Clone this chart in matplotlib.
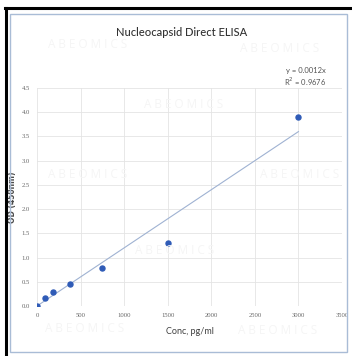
import matplotlib
matplotlib.use("Agg")
import matplotlib.pyplot as plt
from matplotlib.lines import Line2D
from matplotlib.patches import Rectangle

# standard curve data (doubling dilutions)
conc = [0, 93.75, 187.5, 375, 750, 1500, 3000]
od = [0.0, 0.17, 0.29, 0.46, 0.79, 1.30, 3.90]
slope = 0.0012
r2 = 0.9676
fit_x = [0, 3000]

x_ticks = [0, 500, 1000, 1500, 2000, 2500, 3000, 3500]
y_ticks = [0.0, 0.5, 1.0, 1.5, 2.0, 2.5, 3.0, 3.5, 4.0, 4.5]

W, H = 352, 356
fig = plt.figure(figsize=(W / 100, H / 100), dpi=100)
fig.patch.set_facecolor("white")

narrow = ["Lato", "DejaVu Sans"]
serif = ["Liberation Serif", "DejaVu Serif"]

# faint watermarks
wm = [(88, 45), (280, 48), (184, 105), (88, 175), (300, 175), (175, 250), (85, 329), (278, 330)]
for px, py in wm:
    fig.text(px / W, 1 - py / H, "A B E O M I C S", ha="center", va="center",
             fontsize=8.5, color="#f5f5f5", family=["Open Sans", "DejaVu Sans"], zorder=0)

ax = fig.add_axes([37 / W, 1 - 306 / H, 305 / W, 218 / H])
ax.set_facecolor("none")
ax.set_xlim(0, 3500)
ax.set_ylim(0, 4.5)
ax.set_xticks(x_ticks)
ax.set_yticks(y_ticks)
ax.set_yticklabels([f"{v:.1f}" for v in y_ticks])
ax.grid(True, color="#e4e4e4", lw=0.6)
ax.set_axisbelow(True)
for s in ax.spines.values():
    s.set_visible(False)
ax.tick_params(length=0, labelsize=4.8, labelcolor="#666666", pad=5)
for lab in ax.get_xticklabels() + ax.get_yticklabels():
    lab.set_family(serif)

# linear fit through origin
ax.plot(fit_x, [slope * v for v in fit_x], color="#9fb2d2", lw=0.8, zorder=2)
ax.plot(conc, od, "o", color="#2f5bb7", ms=3.6, zorder=3)

ax.set_xlabel("Conc, pg/ml", fontsize=6.5, color="#404040", family=narrow)
ax.xaxis.set_label_coords(153 / 305, -21 / 218)
ax.set_ylabel("OD (450nm)", fontsize=5.5, color="#4a4a4a", fontweight="bold")
ax.yaxis.set_label_coords(-20 / 305, 0.5)

fig.text(182 / W, 1 - 33 / H, "Nucleocapsid Direct ELISA", ha="center", va="center",
         fontsize=8, color="#333333", family=narrow, fontweight="medium")
fig.text(326 / W, 1 - 70 / H, f"y = {slope}x", ha="right", va="center",
         fontsize=5.5, color="#555555", family=narrow)
fig.text(326 / W, 1 - 82 / H, f"R$^2$ = {r2}", ha="right", va="center",
         fontsize=5.5, color="#555555", family=narrow)

# frames: inner light chart border, outer thick black border (top/left)
fig.add_artist(Rectangle((10 / W, 1 - 352 / H), 337 / W, 338 / H, transform=fig.transFigure,
                         fill=False, ec="#a9bcd6", lw=1.0))
fig.add_artist(Line2D([5.5 / W, 5.5 / W], [0, 1 - 7.5 / H], transform=fig.transFigure,
                      color="black", lw=2.2))
fig.add_artist(Line2D([4.5 / W, 1], [1 - 7.5 / H, 1 - 7.5 / H], transform=fig.transFigure,
                      color="black", lw=2.2))

fig.savefig("out.png", dpi=100)
